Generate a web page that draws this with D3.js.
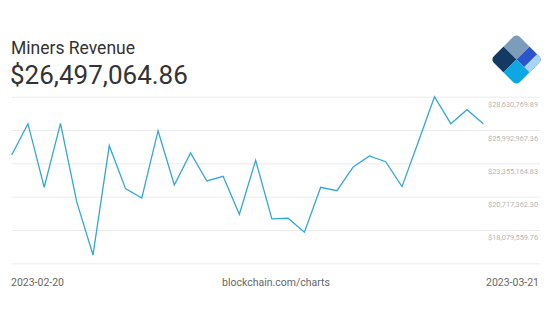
<!DOCTYPE html>
<html><head><meta charset="utf-8">
<script src="https://cdn.jsdelivr.net/npm/d3@7"></script>
<style>
html,body{margin:0;padding:0;background:#fff;}
svg{display:block;font-family:Roboto,"Noto Sans",sans-serif;}
</style></head>
<body>
<svg id="c" width="552" height="314"></svg>
<script>
const title = "Miners Revenue";
const headline = "$26,497,064.86";
const startDate = "2023-02-20";
const endDate = "2023-03-21";
const source = "blockchain.com/charts";
const values = [24017000, 26494000, 21461000, 26526000, 20298000, 16104000, 24753000, 21350000, 20614000, 25940000,
  21643000, 24176000, 21960000, 22332000, 19325000, 23598000, 18953000, 19008000, 17900000, 21461000,
  21192000, 23068000, 23938000, 23487000, 21509000, 25046000, 28630769.89, 26494000, 27602000, 26497064.86];
const gridValues = [28630769.89, 25992967.36, 23355164.83, 20717362.30, 18079559.76, 15441757.23];
const gridLabels = ["$28,630,769.89", "$25,992,967.36", "$23,355,164.83", "$20,717,362.30", "$18,079,559.76", ""];

const parse = d3.timeParse("%Y-%m-%d");
const d0 = parse(startDate);
const dates = values.map((v, i) => d3.timeDay.offset(d0, i));

const svg = d3.select("#c");
const x = d3.scaleTime().domain([d0, parse(endDate)]).range([11.7, 483.3]);
const y = d3.scaleLinear().domain([15441757.23, 28630769.89]).range([263.3, 96.7]);

// gridlines + labels via axis
const axis = d3.axisRight(y).tickValues(gridValues)
  .tickSize(-(540 - 11.7)).tickFormat((d, i) => gridLabels[i]);
const g = svg.append("g").attr("transform", "translate(540,0)").call(axis);
g.select(".domain").remove();
g.selectAll(".tick line").attr("stroke", "#ebebeb").attr("stroke-width", 1);
g.selectAll(".tick text").attr("x", -2).attr("dy", 10).attr("text-anchor", "end")
  .attr("fill", "#b5b5b5").style("font-size", "7.3px").style("font-family", "Roboto");

// line
const line = d3.line().x((d, i) => x(dates[i])).y(d => y(d));
svg.append("path").datum(values).attr("d", line)
  .attr("fill", "none").attr("stroke", "#33a6dc").attr("stroke-width", 1.3)
  .attr("stroke-linejoin", "miter");

// titles
svg.append("text").attr("x", 11).attr("y", 54).text(title)
  .attr("fill", "#333").style("font-size", "17.5px");
svg.append("text").attr("x", 10).attr("y", 84).text(headline)
  .attr("fill", "#333").style("font-size", "26px");

// footer
svg.append("text").attr("x", 11).attr("y", 286).text(startDate)
  .attr("fill", "#666").style("font-size", "10.5px");
svg.append("text").attr("x", 276).attr("y", 286).attr("text-anchor", "middle").text(source)
  .attr("fill", "#666").style("font-size", "10.5px");
svg.append("text").attr("x", 539).attr("y", 286).attr("text-anchor", "end").text(endDate)
  .attr("fill", "#666").style("font-size", "10.5px");

// logo
const s = 18.5;
const defs = svg.append("defs");
defs.append("clipPath").attr("id", "lc").append("rect")
  .attr("x", -s).attr("y", -s).attr("width", 2 * s).attr("height", 2 * s).attr("rx", 5);
const logo = svg.append("g").attr("transform", "translate(516.5,59.5) rotate(45)")
  .append("g").attr("clip-path", "url(#lc)");
logo.append("rect").attr("x", -s).attr("y", -s).attr("width", s).attr("height", s).attr("fill", "#7d9cb9");
logo.append("rect").attr("x", -s).attr("y", 0).attr("width", s).attr("height", s).attr("fill", "#123a63");
logo.append("rect").attr("x", 0).attr("y", -s).attr("width", s).attr("height", s).attr("fill", "#2b55c8");
logo.append("rect").attr("x", s * 0.58).attr("y", -s).attr("width", s * 0.42).attr("height", s).attr("fill", "#a8d5ef");
logo.append("rect").attr("x", 0).attr("y", 0).attr("width", s).attr("height", s).attr("fill", "#0fa6e4");
</script>
</body></html>
